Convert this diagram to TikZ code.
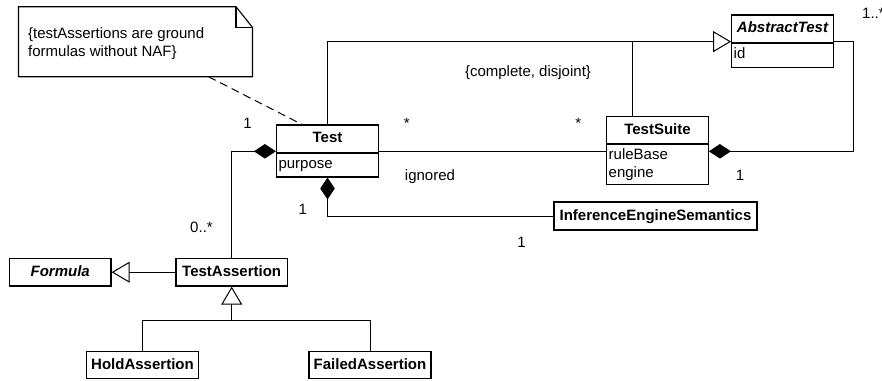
\documentclass[tikz,border=0pt]{standalone}
\usepackage{fontspec}
\setmainfont{Liberation Sans}
\usetikzlibrary{arrows.meta}

\newcommand{\diagfont}{\fontsize{15bp}{18.4bp}\selectfont}

\tikzset{
  cls/.style={draw, line width=1.2bp, inner sep=0pt, font=\diagfont\bfseries,
    text height=11bp, text depth=3bp},
  absclass/.style={cls, font=\diagfont\bfseries\itshape},
  attrbox/.style={draw, line width=1.2bp, anchor=north west, inner xsep=2bp,
    inner ysep=0pt, align=left},
  oneline/.style={text height=10bp, text depth=4bp},
  lbl/.style={anchor=base, inner sep=0pt},
  gen/.style={-{Triangle[length=18bp, width=21bp, fill=white]}},
  comp/.style={{Diamond[length=22bp, width=14.5bp]}-},
  notelink/.style={dash pattern=on 8bp off 5bp}
}

\begin{document}
\begin{tikzpicture}[x=1bp, y=-1bp, line width=1bp,
  every node/.style={font=\diagfont}]
\useasboundingbox (0,0) rectangle (882,380);

% --- note with folded corner ---
\node[minimum width=233bp, minimum height=69bp, inner sep=0pt] (note) at (135.5,41.7) {};
\draw[line width=1.1bp] (note.north west) -- ([xshift=-16.5bp]note.north east)
  -- ([yshift=-20.7bp]note.north east) -- (note.south east) -- (note.south west) -- cycle;
\draw[line width=1.1bp] ([xshift=-16.5bp]note.north east) |- ([yshift=-20.7bp]note.north east);
\node[anchor=base west, align=left, inner sep=0pt] (notetext) at (27.7,56.8)
  {\{testAssertions are ground\\formulas without NAF\}};

% --- classes ---
\node[cls, minimum width=102bp, minimum height=27.3bp] (testh) at (327.5,138.65) {Test};
\node[attrbox, oneline, text width=98bp, minimum height=23.4bp] (testa) at (testh.south west) {purpose};

\node[absclass, minimum width=101.6bp, minimum height=27.3bp] (absh) at (782.5,28.65) {AbstractTest};
\node[attrbox, oneline, text width=97.6bp, minimum height=23.7bp] (absa) at (absh.south west) {id};

\node[cls, minimum width=101.6bp, minimum height=26.6bp] (suiteh) at (657.5,130) {TestSuite};
\node[attrbox, text width=97.6bp, minimum height=40bp] (suitea) at (suiteh.south west) {ruleBase\\engine};

\node[cls, minimum width=203bp, minimum height=28bp] (ies) at (655.5,216) {InferenceEngineSemantics};

\node[absclass, minimum width=101.7bp, minimum height=27.7bp] (formula) at (60.2,272.2) {Formula};
\node[cls, minimum width=111.3bp, minimum height=27.7bp] (tassert) at (231.7,272.2) {TestAssertion};

\node[cls, minimum width=111.6bp, minimum height=26.6bp] (hold) at (142.5,365) {HoldAssertion};
\node[cls, minimum width=122bp, minimum height=26.6bp] (failed) at (370,365) {FailedAssertion};

% --- connection points ---
\coordinate (gentip) at ([yshift=1.3bp]absh.south west);
\coordinate (absR) at ([yshift=1.3bp]absh.south east);
\coordinate (suitetop) at ([xshift=-25.5bp]suiteh.north);
\coordinate (assocL) at ([yshift=1.6bp]testh.south east);
\coordinate (compL) at ([yshift=1.6bp]testh.south west);
\coordinate (suiteR) at (assocL -| suitea.east);
\coordinate (split) at ([yshift=-34bp]tassert.south);

% --- connectors ---
% Test and TestSuite specialise AbstractTest
\draw (suitetop) -- (suitetop |- gentip);
\draw[gen] (testh.north) |- (gentip);

% note anchored to Test
\draw[notelink] ([xshift=73bp]note.south) -- ([xshift=-25.5bp]testh.north);

% Test -- TestSuite association
\draw (assocL) -- (assocL -| suitea.west);

% compositions
\draw[comp] (compL) -| (tassert.north);
\draw[comp] (testa.south) |- (ies.west);
\draw[comp] (suiteR) -| ([xshift=20bp]absR) -- (absR);

% assertion hierarchy
\draw[gen] (tassert.west) -- (formula.east);
\draw (hold.north) |- (split) -| (failed.north);
\draw[gen] (split) -- (tassert.south);

% --- multiplicities and constraints ---
\node[lbl] (m1) at (247.5,128.5) {1};
\node[lbl] (m2) at (406.7,128) {*};
\node[lbl] (m3) at (578.3,128) {*};
\node[lbl] (cd) at (528,76) {\{complete, disjoint\}};
\node[lbl] (ign) at (430,180) {ignored};
\node[lbl] (m4) at (740,180) {1};
\node[lbl, anchor=base west] (m5) at (861.7,18) {1..*};
\node[lbl] (m6) at (302.8,214.5) {1};
\node[lbl] (m7) at (521.5,247.3) {1};
\node[lbl] (m8) at (201.5,232) {0..*};
\end{tikzpicture}
\end{document}
